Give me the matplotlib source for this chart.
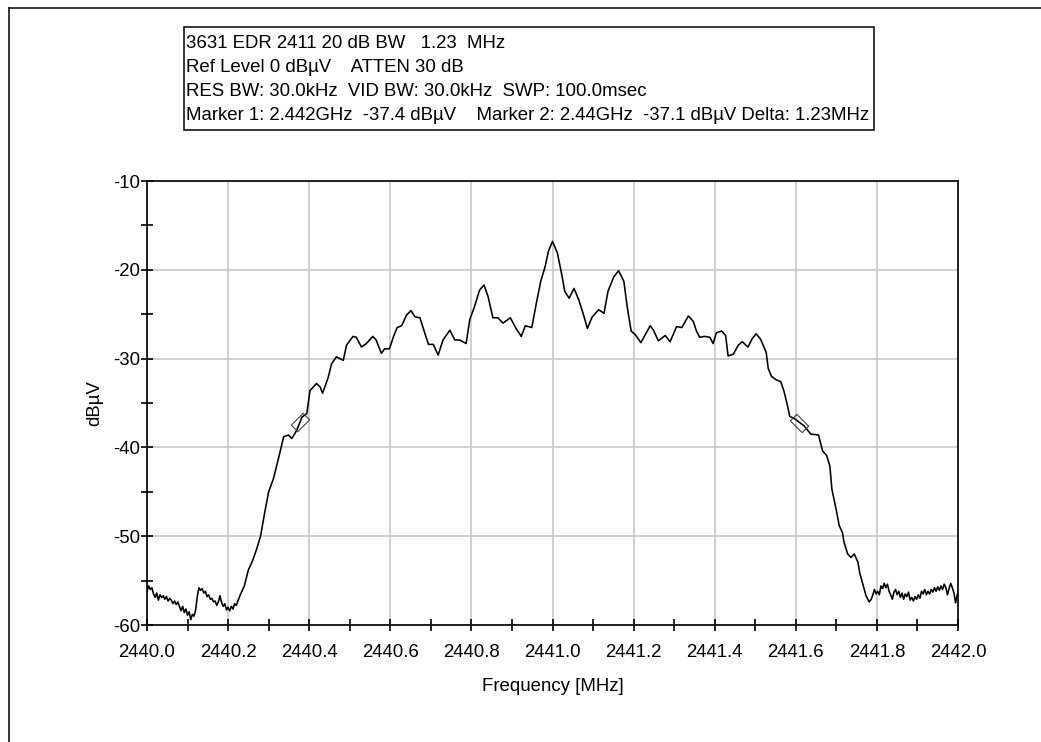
import numpy as np
import matplotlib
matplotlib.use("Agg")
import matplotlib.pyplot as plt
from matplotlib.lines import Line2D
from matplotlib.patches import Rectangle
from matplotlib.markers import MarkerStyle
from matplotlib.path import Path
from matplotlib.transforms import Affine2D

plt.rcParams['font.family'] = ['Liberation Sans', 'DejaVu Sans']

# ---------------- data ----------------
freq_mhz = [
    2440.000, 2440.004, 2440.008, 2440.012, 2440.016, 2440.020, 2440.024, 2440.028,
    2440.032, 2440.036, 2440.040, 2440.044, 2440.048, 2440.052, 2440.056, 2440.060,
    2440.064, 2440.068, 2440.072, 2440.076, 2440.080, 2440.084, 2440.088, 2440.092,
    2440.096, 2440.100, 2440.104, 2440.108, 2440.112, 2440.116, 2440.120, 2440.124,
    2440.128, 2440.132, 2440.136, 2440.140, 2440.144, 2440.148, 2440.152, 2440.156,
    2440.160, 2440.164, 2440.168, 2440.172, 2440.176, 2440.180, 2440.184, 2440.188,
    2440.192, 2440.196, 2440.200, 2440.204, 2440.208, 2440.212, 2440.216, 2440.220,
    2440.224, 2440.230, 2440.240, 2440.250, 2440.260, 2440.270, 2440.280, 2440.290,
    2440.300, 2440.312, 2440.325, 2440.337, 2440.349, 2440.357, 2440.369, 2440.382,
    2440.394, 2440.402, 2440.418, 2440.427, 2440.433, 2440.447, 2440.455, 2440.467,
    2440.484, 2440.492, 2440.508, 2440.516, 2440.529, 2440.541, 2440.557, 2440.565,
    2440.578, 2440.586, 2440.598, 2440.608, 2440.617, 2440.628, 2440.640, 2440.651,
    2440.661, 2440.673, 2440.685, 2440.694, 2440.706, 2440.718, 2440.730, 2440.747,
    2440.759, 2440.771, 2440.787, 2440.796, 2440.808, 2440.820, 2440.831, 2440.841,
    2440.853, 2440.865, 2440.878, 2440.896, 2440.910, 2440.923, 2440.933, 2440.949,
    2440.960, 2440.971, 2440.982, 2440.990, 2441.000, 2441.012, 2441.024, 2441.030,
    2441.041, 2441.053, 2441.065, 2441.078, 2441.086, 2441.098, 2441.114, 2441.127,
    2441.137, 2441.151, 2441.163, 2441.176, 2441.184, 2441.194, 2441.204, 2441.218,
    2441.229, 2441.241, 2441.249, 2441.261, 2441.278, 2441.290, 2441.306, 2441.319,
    2441.335, 2441.347, 2441.355, 2441.363, 2441.375, 2441.388, 2441.396, 2441.404,
    2441.417, 2441.427, 2441.433, 2441.446, 2441.458, 2441.468, 2441.482, 2441.492,
    2441.502, 2441.513, 2441.527, 2441.532, 2441.540, 2441.552, 2441.563, 2441.571,
    2441.579, 2441.585, 2441.598, 2441.621, 2441.637, 2441.656, 2441.666, 2441.676,
    2441.684, 2441.689, 2441.695, 2441.700, 2441.707, 2441.715, 2441.719, 2441.728,
    2441.736, 2441.744, 2441.753, 2441.758, 2441.766, 2441.773, 2441.781, 2441.786,
    2441.790, 2441.794, 2441.798, 2441.802, 2441.806, 2441.810, 2441.814, 2441.818,
    2441.822, 2441.826, 2441.830, 2441.834, 2441.838, 2441.842, 2441.846, 2441.850,
    2441.854, 2441.858, 2441.862, 2441.866, 2441.870, 2441.874, 2441.878, 2441.882,
    2441.886, 2441.890, 2441.894, 2441.898, 2441.902, 2441.906, 2441.910, 2441.914,
    2441.918, 2441.922, 2441.926, 2441.930, 2441.934, 2441.938, 2441.942, 2441.946,
    2441.950, 2441.954, 2441.958, 2441.962, 2441.966, 2441.970, 2441.974, 2441.978,
    2441.982, 2441.986, 2441.990, 2441.994, 2441.997, 2442.000,
]
level_dbuv = [
    -56.2, -55.6, -56.0, -55.8, -56.5, -56.9, -56.4, -57.2,
    -56.6, -56.9, -56.7, -57.1, -56.8, -57.3, -57.0, -57.2,
    -57.6, -57.3, -57.7, -57.4, -57.9, -58.4, -57.9, -58.6,
    -58.2, -58.9, -58.5, -59.4, -58.8, -59.0, -58.3, -56.8,
    -55.8, -56.1, -55.9, -56.4, -56.2, -56.8, -56.6, -57.1,
    -57.0, -57.4, -57.3, -57.8, -57.4, -56.7, -57.5, -57.9,
    -57.6, -58.3, -58.0, -58.4, -57.9, -58.2, -57.6, -57.8,
    -57.3, -56.6, -55.6, -53.8, -52.8, -51.5, -50.0, -47.4,
    -45.0, -43.5, -41.1, -38.8, -38.6, -39.0, -38.1, -36.6,
    -36.2, -33.6, -32.8, -33.2, -33.9, -32.1, -30.6, -29.8,
    -30.2, -28.5, -27.5, -27.6, -28.7, -28.3, -27.5, -27.9,
    -29.4, -28.9, -28.9, -27.5, -26.5, -26.3, -25.1, -24.6,
    -25.3, -25.4, -27.1, -28.4, -28.4, -29.6, -27.9, -26.8,
    -27.9, -27.9, -28.3, -25.6, -24.1, -22.3, -21.7, -23.0,
    -25.4, -25.4, -26.0, -25.4, -26.6, -27.5, -26.3, -26.5,
    -23.8, -21.3, -19.6, -17.9, -16.8, -18.1, -20.8, -22.4,
    -23.2, -22.1, -23.4, -25.3, -26.6, -25.3, -24.5, -24.9,
    -22.4, -20.8, -20.1, -21.3, -24.1, -26.9, -27.3, -28.2,
    -27.3, -26.3, -26.8, -28.0, -27.4, -28.1, -26.4, -26.5,
    -25.2, -25.8, -26.9, -27.6, -27.5, -27.6, -28.3, -27.1,
    -26.9, -27.4, -29.7, -29.5, -28.5, -28.1, -28.7, -27.8,
    -27.2, -27.8, -29.3, -31.1, -32.0, -32.4, -32.6, -33.7,
    -35.2, -36.5, -36.8, -37.6, -38.5, -38.6, -40.4, -40.9,
    -42.1, -44.7, -46.0, -47.1, -48.8, -49.6, -50.7, -52.0,
    -52.4, -52.0, -52.9, -54.2, -55.5, -56.7, -57.4, -57.1,
    -56.6, -56.0, -56.5, -56.2, -56.6, -55.6, -55.9, -55.3,
    -55.8, -55.4, -56.2, -56.6, -57.1, -56.3, -56.0, -56.6,
    -56.2, -56.9, -56.4, -57.1, -56.5, -56.8, -56.3, -57.2,
    -56.9, -57.3, -56.8, -57.1, -56.6, -57.0, -56.2, -56.5,
    -56.0, -56.6, -56.2, -56.5, -56.0, -56.3, -55.8, -56.2,
    -55.7, -56.1, -55.6, -56.0, -55.4, -55.8, -56.6, -55.9,
    -55.3, -55.8, -56.4, -57.5, -56.8, -56.3,
]
marker_freq = [2440.377, 2441.609]
marker_level = [-37.1, -37.3]
marker_angle = [45, -45]

x_ticks = [2440.0, 2440.2, 2440.4, 2440.6, 2440.8, 2441.0, 2441.2, 2441.4, 2441.6, 2441.8, 2442.0]
y_ticks = [-60, -50, -40, -30, -20, -10]

info_lines = [
    "3631 EDR 2411 20 dB BW   1.23  MHz",
    "Ref Level 0 dB\u00b5V    ATTEN 30 dB",
    "RES BW: 30.0kHz  VID BW: 30.0kHz  SWP: 100.0msec",
    "Marker 1: 2.442GHz  -37.4 dB\u00b5V    Marker 2: 2.44GHz  -37.1 dB\u00b5V Delta: 1.23MHz",
]

# ---------------- figure ----------------
W, H = 1041, 742
fig = plt.figure(figsize=(W / 100, H / 100), dpi=100)
fig.patch.set_facecolor('white')

def fx(px):
    return px / W

def fy(py):
    return 1 - py / H

# outer frame (left and top edges visible)
fig.add_artist(Line2D([fx(9), fx(9)], [0, fy(8)], color='black', lw=1.1))
fig.add_artist(Line2D([fx(9), 1], [fy(8), fy(8)], color='black', lw=1.1))

# info box
fig.add_artist(Rectangle((fx(184), fy(130)), fx(874) - fx(184), fy(27) - fy(130),
                         fill=False, edgecolor='black', lw=1.1))
for i, line in enumerate(info_lines):
    fig.text(fx(186), fy(43 + 24 * i), line, ha='left', va='center', fontsize=13.4,
             color='black')

ax_left, ax_right, ax_top, ax_bottom = 147, 958, 181, 625
ax = fig.add_axes([fx(ax_left), fy(ax_bottom), fx(ax_right) - fx(ax_left),
                   fy(ax_top) - fy(ax_bottom)])

ax.plot(freq_mhz, level_dbuv, color='black', lw=1.15, zorder=3)

rect_path = Path([(-1, -0.55), (1, -0.55), (1, 0.55), (-1, 0.55), (-1, -0.55)],
                 [Path.MOVETO, Path.LINETO, Path.LINETO, Path.LINETO, Path.CLOSEPOLY])
for f, v, a in zip(marker_freq, marker_level, marker_angle):
    ms = MarkerStyle(rect_path, transform=Affine2D().rotate_deg(a))
    ax.plot([f], [v], marker=ms, markersize=12, markerfacecolor='none',
            markeredgecolor='#404040', markeredgewidth=0.8, linestyle='none', zorder=4)

ax.set_xlim(2440.0, 2442.0)
ax.set_ylim(-60, -10)
ax.set_xticks(x_ticks)
ax.set_xticklabels([f"{t:.1f}" for t in x_ticks])
ax.set_xticks(np.arange(2440.1, 2442.0, 0.2), minor=True)
ax.set_yticks(y_ticks)
ax.set_yticklabels([str(t) for t in y_ticks])
ax.set_yticks([-55, -45, -35, -25, -15], minor=True)

ax.grid(True, which='major', color='#c8c8c8', lw=1.2, zorder=0)
ax.set_axisbelow(True)
for s in ax.spines.values():
    s.set_color('black')
    s.set_linewidth(1.2)

ax.tick_params(which='both', direction='inout', length=8, width=1.2, color='black',
               labelsize=13.4, labelcolor='black')
ax.tick_params(axis='y', pad=1)
ax.tick_params(axis='x', pad=10)

ax.set_xlabel("Frequency [MHz]", fontsize=13.4, labelpad=12)
ax.set_ylabel("dB\u00b5V", fontsize=13.4, labelpad=7)

fig.savefig("out.png", dpi=100, facecolor='white')
